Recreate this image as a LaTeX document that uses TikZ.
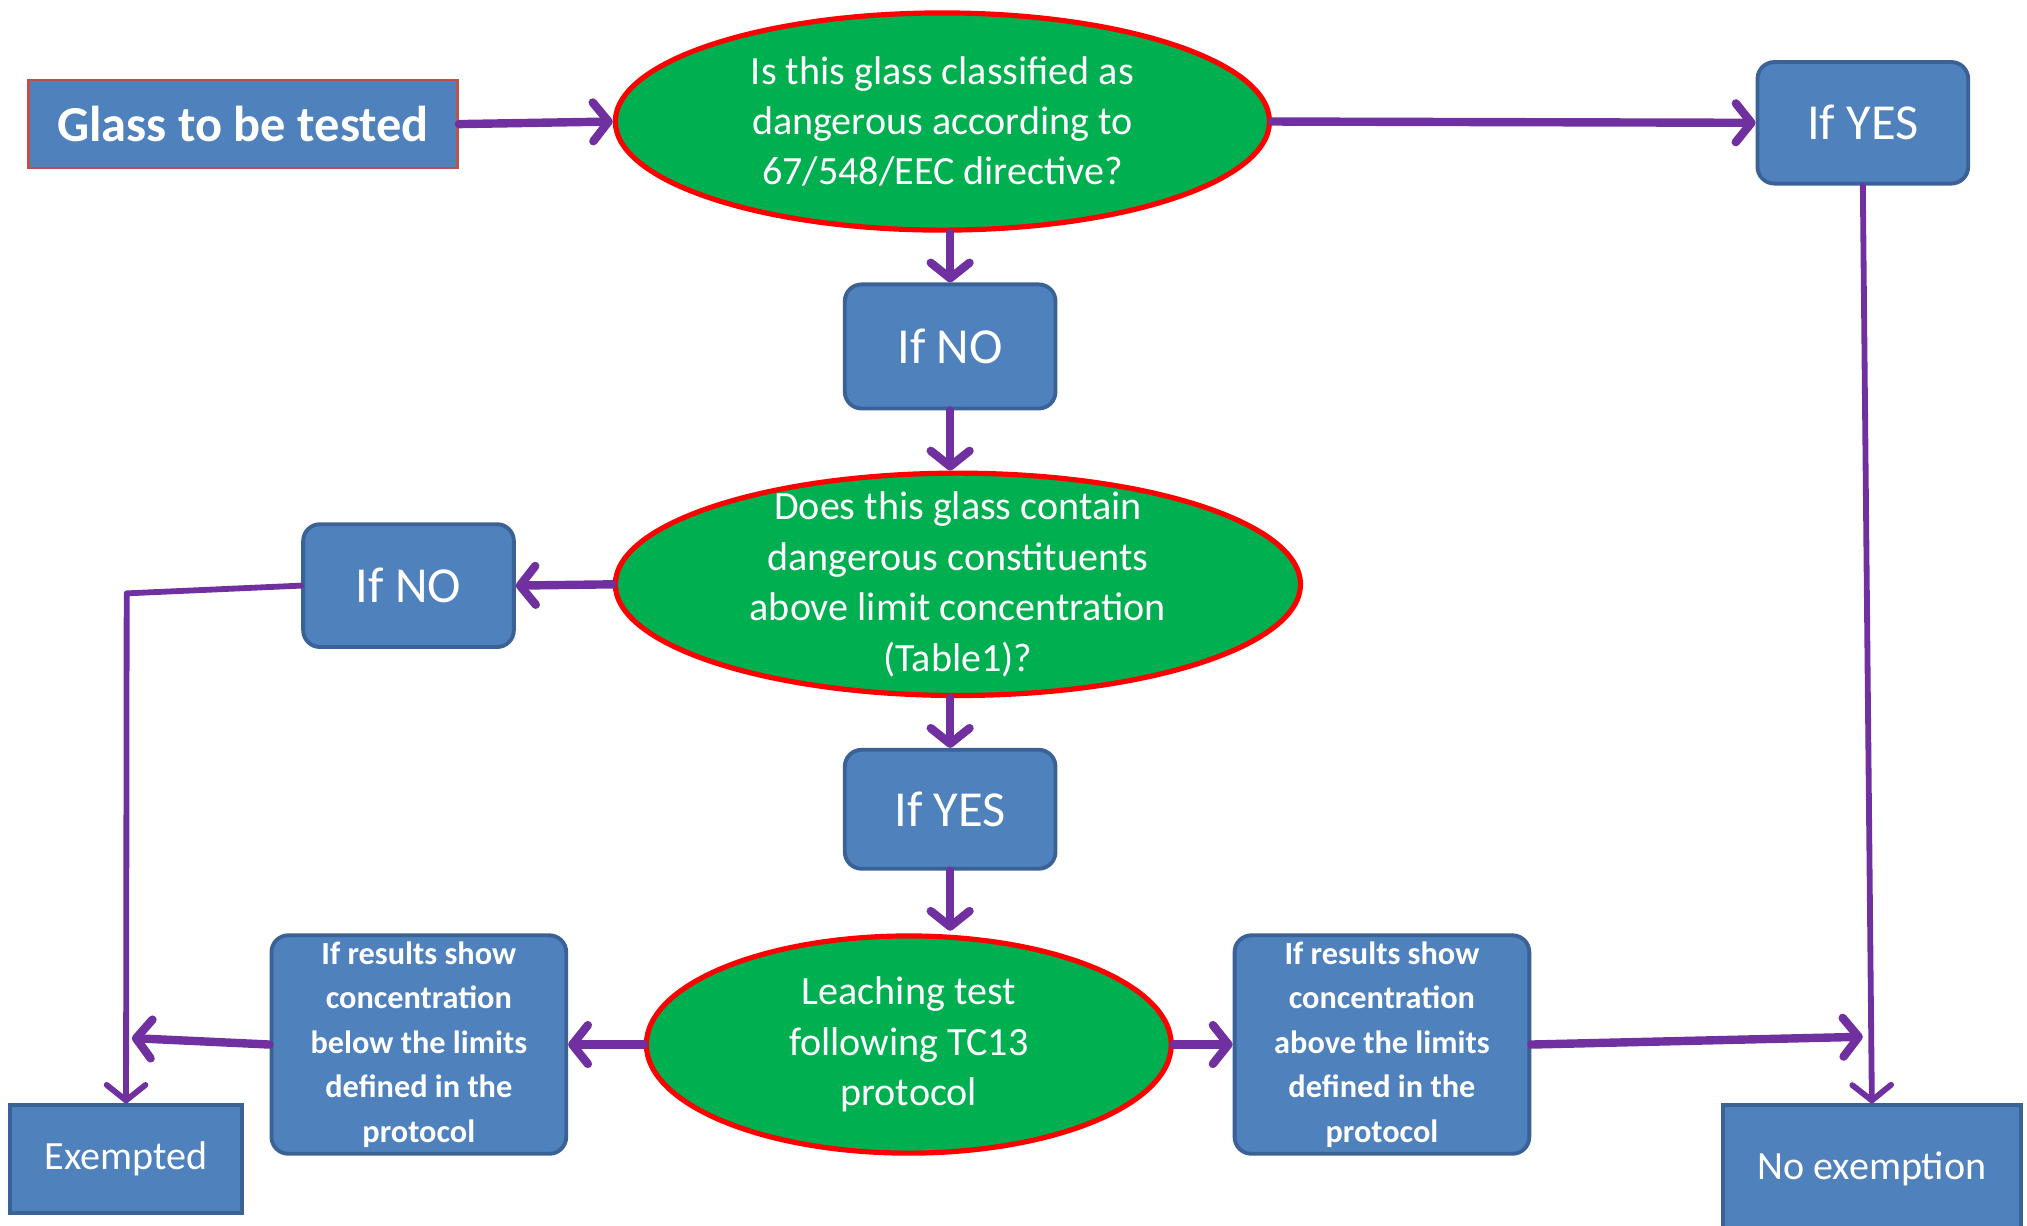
\documentclass[tikz,border=0pt]{standalone}
\usepackage{fontspec}
\setmainfont{Carlito}
\usetikzlibrary{shapes.geometric,arrows.meta}
\definecolor{boxblue}{HTML}{4F81BD}
\definecolor{boxedge}{HTML}{3A6296}
\definecolor{ellgreen}{HTML}{00B050}
\definecolor{ellred}{HTML}{FF0000}
\definecolor{arrowpurple}{HTML}{7030A0}
\definecolor{glassedge}{HTML}{C0504D}
\begin{document}
\begin{tikzpicture}[x=1pt,y=-1pt,
  bluebox/.style={draw=boxedge, line width=3pt, fill=boxblue, rounded corners=13pt,
    text=white, align=center, inner sep=0pt, minimum width=163pt, minimum height=94pt,
    font=\fontsize{39}{44}\selectfont},
  resbox/.style={bluebox, minimum width=228pt, minimum height=169pt,
    font=\fontsize{25}{34.5}\selectfont\bfseries},
  endbox/.style={draw=boxedge, line width=3pt, fill=boxblue, text=white, align=center,
    inner sep=0pt, font=\fontsize{31}{36}\selectfont},
  question/.style={ellipse, draw=ellred, line width=4pt, fill=ellgreen, text=white,
    align=center, inner sep=-30pt, font=\fontsize{31}{39}\selectfont},
  conn/.style={draw=arrowpurple, line width=6.5pt, line cap=round, line join=round,
    -{Straight Barb[length=12pt,width=30pt,round]}},
  thinconn/.style={conn, line width=4.5pt}
]
\clip (0,0) rectangle (1568,948);

\node[draw=glassedge, line width=2pt, fill=boxblue, text=white, inner sep=0pt,
  minimum width=332pt, minimum height=68pt,
  font=\fontsize{39}{44}\selectfont\bfseries] (glass) at (188,96) {Glass to be tested};

\node[question, minimum width=506pt, minimum height=168pt] (q1) at (729,94)
  {Is this glass classified as\\dangerous according to\\67/548/EEC directive?};

\node[bluebox] (yesR) at (1441,95) {If YES};
\node[bluebox, minimum height=96pt] (noM) at (735,268) {If NO};

\node[question, minimum width=530pt, minimum height=172pt] (q2) at (741,452)
  {Does this glass contain\\dangerous constituents\\above limit concentration\\(Table1)?};

\node[bluebox, minimum height=95pt] (noL) at (316,453) {If NO};
\node[bluebox, minimum height=92pt] (yesM) at (735,626) {If YES};

\node[question, minimum width=406pt, minimum height=168pt] (q3) at (703,808)
  {Leaching test\\following TC13\\protocol};

\node[resbox] (resL) at (324,808)
  {If results show\\concentration\\below the limits\\defined in the\\protocol};
\node[resbox] (resR) at (1069,808)
  {If results show\\concentration\\above the limits\\defined in the\\protocol};

\node[endbox, minimum width=179pt, minimum height=83pt] (exempt) at (97.5,896.5) {Exempted};
\node[endbox, minimum width=230pt, minimum height=98pt] (noex) at (1448,904) {No exemption};

\coordinate (jl) at (98,459);
\coordinate (jlin) at (102,803);
\coordinate (jrin) at (1441,802);

\draw[conn] (glass.east) -- (q1.west);
\draw[conn] (q1.east) -- (yesR.west);
\draw[conn] (q1.south -| noM.north) -- (noM.north);
\draw[conn] (noM.south) -- (noM.south |- q2.north);
\draw[conn] (q2.west) -- (noL.east);
\draw[conn] (q2.south -| yesM.north) -- (yesM.north);
\draw[conn] (yesM.south) -- ([yshift=2pt]yesM.south |- q3.north);
\draw[conn] (q3.west) -- (resL.east);
\draw[conn] (q3.east) -- (resR.west);
\draw[conn] (resL.west) -- (jlin);
\draw[conn] (resR.east) -- (jrin);
\draw[thinconn] (noL.west) -- (jl) -- (exempt.north);
\draw[thinconn] (yesR.south) -- (noex.north);
\end{tikzpicture}
\end{document}
